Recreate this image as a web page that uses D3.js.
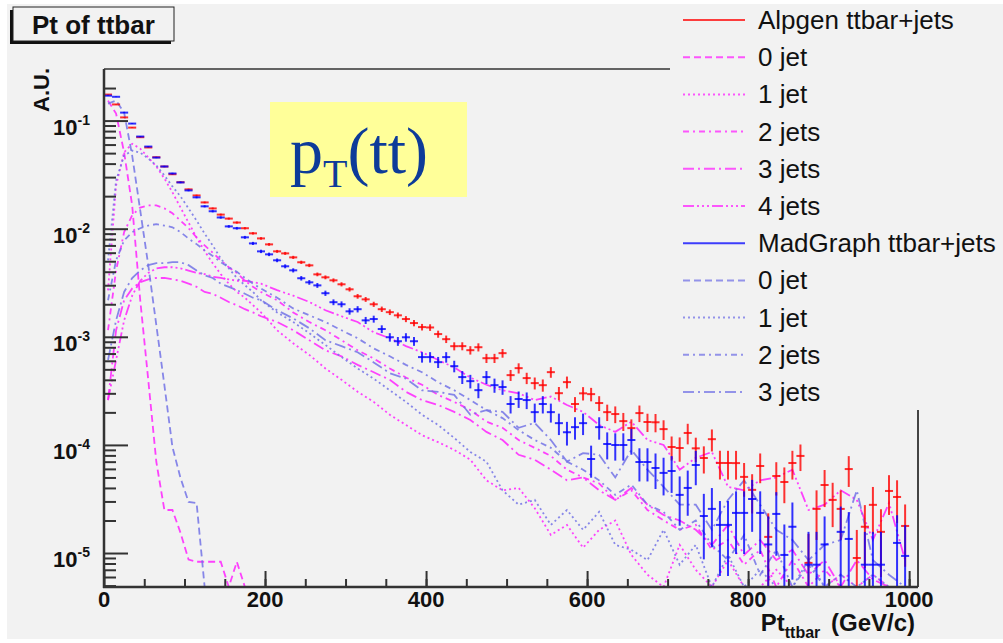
<!DOCTYPE html>
<html lang="en">
<head>
<meta charset="UTF-8" />
<title>Pt of ttbar</title>
<script src="https://d3js.org/d3.v7.min.js"></script>
<style>
  body { margin: 0; background: #fff; }
  svg { display: block; font-family: "Liberation Sans", Arial, sans-serif; }
  .tick-label { font-weight: bold; font-size: 22px; fill: #111; }
  .legend text { font-size: 26px; fill: #111; }
</style>
</head>
<body>
<svg width="1003" height="643"></svg>
<script>
// --- data (A.U.) ---
// 10 GeV bins, 0..1000 GeV
const binCenters = d3.range(5, 1000, 10);

const alpgenTotal = [
  0.174, 0.141, 0.107, 0.0861, 0.0702, 0.0564, 0.0458, 0.0376, 0.0319, 0.0269,
  0.0231, 0.0203, 0.0175, 0.0154, 0.0135, 0.0124, 0.0114, 0.0101, 0.00906, 0.00813,
  0.00716, 0.00617, 0.00591, 0.00543, 0.00489, 0.00458, 0.00378, 0.00355, 0.00333, 0.00306,
  0.00275, 0.00237, 0.00222, 0.00200, 0.00180, 0.00169, 0.00158, 0.00146, 0.00134, 0.00123,
  0.00122, 0.00106, 0.000951, 0.000819, 0.00082, 0.000752, 0.000801, 0.000634, 0.000634, 0.000706,
  0.000442, 0.000513, 0.000415, 0.000373, 0.000357, 0.000471, 0.000301, 0.000381, 0.000239, 0.000300,
  0.000295, 0.000244, 0.000201, 0.000193, 0.000166, 0.000143, 0.000197, 0.000163, 0.000162, 0.000140,
  9.57e-5, 9.36e-5, 1.29e-4, 9.3e-5, 7.57e-5, 1.13e-4, 6.81e-5, 6.8e-5, 6.79e-5, 5.06e-5,
  3.84e-5, 6.38e-5, 1.41e-5, 5.16e-5, 4.54e-5, 6.8e-5, 7.91e-5, 8.1e-6, 2.56e-5, 4.26e-5,
  3.10e-5, 2.56e-5, 5.98e-5, 9.0e-6, 1.75e-5, 2.79e-5, 1.57e-5, 3.75e-5, 3.30e-5, 1.78e-5
];

const madgraphTotal = [
  0.170, 0.166, 0.1185, 0.0938, 0.0712, 0.0575, 0.0455, 0.0376, 0.0324, 0.0268,
  0.0226, 0.0195, 0.0161, 0.0145, 0.0127, 0.0105, 0.0101, 0.00832, 0.00731, 0.00617,
  0.00579, 0.00510, 0.00449, 0.00412, 0.00348, 0.00319, 0.00299, 0.00253, 0.00209, 0.00200,
  0.00172, 0.00180, 0.00142, 0.00146, 0.00118, 0.000991, 0.000910, 0.00099, 0.00091, 0.000649,
  0.000649, 0.000583, 0.000649, 0.000535, 0.000424, 0.000389, 0.000321, 0.000424, 0.000357, 0.000343,
  0.000239, 0.000266, 0.000260, 0.000201, 0.000239, 0.000201, 0.000159, 0.000131, 0.000146, 0.000159,
  7.41e-5, 0.000146, 0.000102, 9.98e-5, 9.98e-5, 0.000111, 6.95e-5, 6.95e-5, 6.12e-5, 5.51e-5,
  5.74e-5, 3.45e-5, 4.0e-5, 6.52e-5, 2.20e-5, 2.56e-5, 1.82e-5, 1.82e-5, 2.35e-5, 2.35e-5,
  3.16e-5, 2.35e-5, 1.2e-5, 2.3e-5, 9.6e-6, 1.75e-5, 0, 7.8e-6, 7.8e-6, 1.2e-5,
  0, 1.57e-5, 1.35e-5, 0, 7.8e-6, 7.8e-6, 7.8e-6, 0, 1.24e-5, 9.4e-6
];

// weight of one event in each sample (sets the error bars)
const alpgenWeight = 6e-6;
const madgraphWeight = 8e-6;

// jet-multiplicity components, sampled at these pT points
const compPt = d3.range(5, 200, 10).concat(d3.range(215, 1000, 20));

const alpgen0 = [
  0.153, 0.116, 0.0507, 0.0164, 0.00218, 0.000397, 6.95e-5, 2.5e-5, 2.5e-5, 1.54e-5,
  8.7e-6, 8.3e-6, 8.3e-6, 8.3e-6, 8.3e-6, 0, 8.3e-6, 0, 0, 0,
  0, 0, 0, 0, 0, 0, 0, 0, 0, 0,
  0, 0, 0, 0, 0, 0, 0, 0, 0, 0,
  0, 0, 0, 0, 0, 0, 0, 0, 0, 0,
  0, 0, 0, 0, 0, 0, 0, 0, 0, 0
];
const alpgen1 = [
  0.00269, 0.0251, 0.051, 0.061, 0.055, 0.0455, 0.0376, 0.0291, 0.0217, 0.0157,
  0.0114, 0.0083, 0.0062, 0.0048, 0.0038, 0.0031, 0.0026, 0.0023, 0.00196, 0.00168,
  0.00115, 0.00087, 0.00068, 0.00051, 0.00040, 0.00031, 0.00025, 0.00019, 0.000153, 0.000123,
  0.000106, 9.0e-5, 7.3e-5, 4.7e-5, 3.8e-5, 4.0e-5, 2.6e-5, 1.47e-5, 1.82e-5, 1.12e-5,
  1.64e-5, 2.0e-5, 9.6e-6, 6.3e-6, 0, 1.19e-5, 7.0e-6, 0, 8.6e-6, 0,
  0, 7.0e-6, 0, 0, 0, 6.3e-6, 0, 0, 0, 0
];
const alpgen2 = [
  0.00115, 0.0041, 0.0093, 0.0133, 0.0157, 0.0164, 0.0164, 0.0154, 0.0139, 0.0119,
  0.0101, 0.0083, 0.0070, 0.0060, 0.0051, 0.0044, 0.0039, 0.0033, 0.0029, 0.0026,
  0.00218, 0.00168, 0.00137, 0.00115, 0.00093, 0.00075, 0.00063, 0.00051, 0.00042, 0.00036,
  0.00029, 0.00025, 0.00021, 0.000164, 0.000144, 0.000111, 9.4e-5, 7.9e-5, 5.9e-5, 5.0e-5,
  4.4e-5, 3.1e-5, 3.8e-5, 2.5e-5, 2.0e-5, 1.64e-5, 1.82e-5, 1.07e-5, 1.32e-5, 7.8e-6,
  1.07e-5, 0, 8.6e-6, 0, 7.0e-6, 0, 0, 6.3e-6, 0, 0
];
const alpgen3 = [
  0.00026, 0.00115, 0.00218, 0.0028, 0.0032, 0.0034, 0.0035, 0.0035, 0.0034, 0.0033,
  0.0031, 0.0029, 0.0026, 0.0025, 0.0023, 0.0021, 0.00196, 0.0018, 0.00168, 0.00155,
  0.00137, 0.00115, 0.00093, 0.00075, 0.00066, 0.00055, 0.00047, 0.00040, 0.00031, 0.00026,
  0.000234, 0.000202, 0.00017, 0.000132, 0.000111, 8.1e-5, 7.3e-5, 5.9e-5, 4.7e-5, 5.0e-5,
  3.8e-5, 3.1e-5, 4.0e-5, 2.8e-5, 2.25e-5, 2.0e-5, 1.64e-5, 1.19e-5, 1.82e-5, 9.6e-6,
  1.32e-5, 8.6e-6, 1.07e-5, 6.3e-6, 8.6e-6, 0, 8.6e-6, 5.7e-6, 0, 0
];
const alpgen4 = [
  0.00026, 0.00061, 0.00142, 0.0024, 0.0033, 0.0039, 0.0043, 0.0044, 0.0044, 0.0043,
  0.0041, 0.0039, 0.0038, 0.0036, 0.0035, 0.0034, 0.0033, 0.0033, 0.0032, 0.0031,
  0.0027, 0.0024, 0.0021, 0.00176, 0.00155, 0.00137, 0.00110, 0.00097, 0.00082, 0.00072,
  0.00061, 0.00052, 0.00042, 0.00036, 0.00032, 0.00030, 0.00026, 0.00028, 0.000234, 0.000202,
  0.000153, 0.000132, 0.000164, 0.000111, 0.0001, 5.9e-5, 7.6e-5, 8.6e-5, 4.1e-5, 3.8e-5,
  4.7e-5, 5.0e-5, 5.9e-5, 2.5e-5, 2.8e-5, 3.8e-5, 3.1e-5, 1.32e-5, 2.9e-5, 8.6e-6
];

const madgraph0 = [
  0.1436, 0.153, 0.1185, 0.0475, 0.01476, 0.00458, 0.00128, 0.000357, 9.57e-5, 4.95e-5,
  2.97e-5, 2.9e-5, 0, 0, 0, 0, 0, 0, 0, 0,
  0, 0, 0, 0, 0, 0, 0, 0, 0, 0,
  0, 0, 0, 0, 0, 0, 0, 0, 0, 0,
  0, 0, 0, 0, 0, 0, 0, 0, 0, 0,
  0, 0, 0, 0, 0, 0, 0, 0, 0, 0
];
const madgraph1 = [
  0.0051, 0.0279, 0.0475, 0.0528, 0.0505, 0.0446, 0.0384, 0.0311, 0.0246, 0.0199,
  0.0154, 0.0119, 0.0090, 0.0070, 0.0053, 0.0043, 0.0035, 0.0030, 0.0026, 0.00218,
  0.00168, 0.00137, 0.00108, 0.00084, 0.00065, 0.00051, 0.00041, 0.00032, 0.00025, 0.00019,
  0.000153, 0.000116, 8.6e-5, 7.0e-5, 3.8e-5, 2.8e-5, 3.1e-5, 1.82e-5, 2.5e-5, 1.64e-5,
  2.4e-5, 1.19e-5, 1.07e-5, 8.6e-6, 1.64e-5, 7.8e-6, 1.19e-5, 0, 9.6e-6, 0,
  7.0e-6, 0, 0, 8.6e-6, 0, 0, 0, 6.3e-6, 0, 0
];
const madgraph2 = [
  0.00218, 0.0051, 0.0078, 0.0093, 0.0101, 0.0107, 0.0110, 0.0107, 0.0103, 0.0093,
  0.0081, 0.0072, 0.0063, 0.0056, 0.0049, 0.0044, 0.0040, 0.0035, 0.0031, 0.0028,
  0.0023, 0.00183, 0.00158, 0.00137, 0.00115, 0.00097, 0.00078, 0.00066, 0.00055, 0.00047,
  0.00038, 0.00032, 0.00026, 0.00021, 0.000177, 0.000137, 0.000111, 9.4e-5, 7.0e-5, 5.9e-5,
  4.7e-5, 3.45e-5, 4.3e-5, 2.8e-5, 2.4e-5, 1.64e-5, 2.0e-5, 1.19e-5, 8.6e-6, 1.47e-5,
  6.3e-6, 1.07e-5, 0, 7.8e-6, 0, 6.3e-6, 0, 0, 0, 0
];
const madgraph3 = [
  0.00061, 0.00142, 0.0026, 0.0035, 0.0041, 0.0046, 0.0048, 0.0048, 0.0049, 0.0049,
  0.0046, 0.0041, 0.0037, 0.0035, 0.0031, 0.0029, 0.0027, 0.0025, 0.0023, 0.00218,
  0.00176, 0.00148, 0.00120, 0.00093, 0.00082, 0.00072, 0.00058, 0.00046, 0.00041, 0.00032,
  0.00031, 0.00029, 0.00019, 0.00021, 0.000202, 0.000144, 0.00016, 0.000111, 7.0e-5, 8.4e-5,
  8.1e-5, 5.0e-5, 9.0e-5, 5.9e-5, 4.1e-5, 2.8e-5, 2.8e-5, 1.64e-5, 3.1e-5, 4.7e-5,
  2.8e-5, 1.64e-5, 1.32e-5, 8.6e-6, 1.19e-5, 1.32e-5, 3.8e-5, 8.6e-6, 6.3e-6, 0
];

const xTicks = [0, 200, 400, 600, 800, 1000];
const yExponents = [-1, -2, -3, -4, -5];

// --- layout ---
const width = 1003;
const height = 643;
const frame = { left: 104, right: 918, top: 69, bottom: 587 };

const magenta = "#ff22ff";
const lilac = "#7373e6";

const components = [
  { values: alpgen0, color: magenta, dash: "7 4" },
  { values: alpgen1, color: magenta, dash: "2 3" },
  { values: alpgen2, color: magenta, dash: "6 4 2 4" },
  { values: alpgen3, color: magenta, dash: "11 4 2 4" },
  { values: alpgen4, color: magenta, dash: "11 3 2 3 2 3 2 3" },
  { values: madgraph0, color: lilac, dash: "7 4" },
  { values: madgraph1, color: lilac, dash: "2 3" },
  { values: madgraph2, color: lilac, dash: "6 4 2 4" },
  { values: madgraph3, color: lilac, dash: "11 4 2 4" }
];

const svg = d3.select("svg")
  .attr("width", width)
  .attr("height", height);

svg.append("rect").attr("x", 7).attr("y", 4)
  .attr("width", width - 7).attr("height", height - 8)
  .attr("fill", "#f2f2f2");

const x = d3.scaleLinear().domain([0, 1011]).range([frame.left, frame.right]);
const y = d3.scaleLog().domain([4.85e-6, 0.30]).range([frame.bottom, frame.top]);
const yMin = y.domain()[0];
const yPos = v => v > yMin ? y(v) : frame.bottom;

svg.append("clipPath").attr("id", "frame-clip")
  .append("rect")
  .attr("x", frame.left).attr("y", frame.top)
  .attr("width", frame.right - frame.left)
  .attr("height", frame.bottom - frame.top);

const plot = svg.append("g").attr("clip-path", "url(#frame-clip)");

// component curves
const line = d3.line()
  .x((d, i) => x(compPt[i]))
  .y(d => yPos(d));

plot.selectAll("path.comp")
  .data(components)
  .enter()
  .append("path")
  .attr("class", "comp")
  .attr("d", d => line(d.values))
  .attr("fill", "none")
  .attr("stroke", d => d.color)
  .attr("stroke-width", 1.8)
  .attr("stroke-dasharray", d => d.dash)
  .attr("stroke-opacity", 0.85);

// totals with error bars
function drawTotal(values, weight, color) {
  const g = plot.append("g")
    .attr("stroke", color)
    .attr("stroke-width", 2)
    .attr("stroke-opacity", 0.8);
  const pts = values.map((v, i) => ({ c: binCenters[i], v: v }))
    .filter(d => d.v > 0);
  pts.forEach(d => {
    const err = Math.sqrt(d.v * weight);
    g.append("line")
      .attr("x1", x(d.c)).attr("x2", x(d.c))
      .attr("y1", yPos(d.v + err)).attr("y2", yPos(d.v - err));
    g.append("line")
      .attr("x1", x(d.c - 5)).attr("x2", x(d.c + 5))
      .attr("y1", y(d.v)).attr("y2", y(d.v));
  });
}
drawTotal(alpgenTotal, alpgenWeight, "#ff0000");
drawTotal(madgraphTotal, madgraphWeight, "#0000ff");

// frame
svg.append("line").attr("x1", frame.left).attr("x2", frame.right)
  .attr("y1", frame.top).attr("y2", frame.top)
  .attr("stroke", "#333").attr("stroke-width", 1.5);
svg.append("line").attr("x1", frame.right).attr("x2", frame.right)
  .attr("y1", frame.top).attr("y2", frame.bottom)
  .attr("stroke", "#444").attr("stroke-width", 2);

// y axis, ticks pointing into the frame
const yMinor = [];
for (let e = -6; e <= -1; e++) {
  for (let k = 2; k <= 9; k++) {
    const v = k * Math.pow(10, e);
    if (v >= yMin && v <= 0.30) yMinor.push(v);
  }
}
const yMajor = yExponents.map(e => Math.pow(10, e));

svg.append("g")
  .attr("transform", `translate(${frame.left},0)`)
  .call(d3.axisRight(y).tickValues(yMinor).tickSize(12).tickFormat(""))
  .call(g => g.select(".domain").remove());
svg.append("g")
  .attr("transform", `translate(${frame.left},0)`)
  .call(d3.axisRight(y).tickValues(yMajor).tickSize(24).tickFormat(""))
  .call(g => g.select(".domain").remove());

// x axis, ticks pointing up
svg.append("g")
  .attr("transform", `translate(0,${frame.bottom})`)
  .call(d3.axisTop(x).tickValues(d3.range(50, 1001, 50)).tickSize(8).tickFormat(""))
  .call(g => g.select(".domain").remove());
svg.append("g")
  .attr("transform", `translate(0,${frame.bottom})`)
  .call(d3.axisTop(x).tickValues(xTicks).tickSize(16).tickFormat(""))
  .call(g => g.select(".domain").remove());

svg.selectAll(".tick line").attr("stroke", "#333").attr("stroke-width", 2);

svg.append("line").attr("x1", frame.left).attr("x2", frame.left)
  .attr("y1", frame.top).attr("y2", frame.bottom + 1)
  .attr("stroke", "#333").attr("stroke-width", 2.5);
svg.append("line").attr("x1", frame.left - 1).attr("x2", frame.right)
  .attr("y1", frame.bottom).attr("y2", frame.bottom)
  .attr("stroke", "#333").attr("stroke-width", 2.5);

// tick labels
const yl = svg.selectAll("text.ylab")
  .data(yExponents)
  .enter()
  .append("text")
  .attr("class", "tick-label ylab")
  .attr("text-anchor", "end")
  .attr("x", 90)
  .attr("y", e => y(Math.pow(10, e)) + 14);
yl.append("tspan").text("10");
yl.append("tspan").attr("dy", -10).attr("font-size", 14).text(e => String(e));

svg.selectAll("text.xlab")
  .data(xTicks)
  .enter()
  .append("text")
  .attr("class", "tick-label xlab")
  .attr("text-anchor", "middle")
  .attr("x", d => x(d))
  .attr("y", 607)
  .text(d => d);

// axis titles
svg.append("text")
  .attr("transform", "translate(49,68) rotate(-90)")
  .attr("text-anchor", "end")
  .attr("font-weight", "bold")
  .attr("font-size", 22)
  .attr("fill", "#111")
  .text("A.U.");

const xt = svg.append("text")
  .attr("x", 915).attr("y", 631)
  .attr("text-anchor", "end")
  .attr("font-weight", "bold")
  .attr("font-size", 24)
  .attr("fill", "#111");
xt.append("tspan").text("Pt");
xt.append("tspan").attr("dy", 7).attr("font-size", 16).text("ttbar");
xt.append("tspan").attr("dy", -7).attr("dx", 4).text(" (GeV/c)");

// title box with shadow
svg.append("rect").attr("x", 10).attr("y", 10).attr("width", 161).attr("height", 34).attr("fill", "#111");
svg.append("rect").attr("x", 13).attr("y", 7).attr("width", 161).attr("height", 34)
  .attr("fill", "#f2f2f2").attr("stroke", "#222").attr("stroke-width", 1);
svg.append("text").attr("x", 32).attr("y", 34)
  .attr("font-weight", "bold").attr("font-size", 26).attr("fill", "#111")
  .text("Pt of ttbar");

// pT(tt) label
svg.append("rect").attr("x", 270).attr("y", 102).attr("width", 197).attr("height", 95)
  .attr("fill", "#ffff99");
const pt = svg.append("text").attr("x", 290).attr("y", 173)
  .attr("font-family", "'Liberation Serif', 'DejaVu Serif', serif")
  .attr("font-size", 66).attr("fill", "#0d3b99");
pt.append("tspan").text("p");
pt.append("tspan").attr("dy", 14).attr("font-size", 40).text("T");
pt.append("tspan").attr("dy", -14).text("(tt)");

// legend
const legendItems = [
  { label: "Alpgen ttbar+jets", color: "#ff0000", dash: null },
  { label: "0 jet", color: magenta, dash: "7 4" },
  { label: "1 jet", color: magenta, dash: "2 3" },
  { label: "2 jets", color: magenta, dash: "6 4 2 4" },
  { label: "3 jets", color: magenta, dash: "11 4 2 4" },
  { label: "4 jets", color: magenta, dash: "11 3 2 3 2 3 2 3" },
  { label: "MadGraph ttbar+jets", color: "#0000ff", dash: null },
  { label: "0 jet", color: lilac, dash: "7 4" },
  { label: "1 jet", color: lilac, dash: "2 3" },
  { label: "2 jets", color: lilac, dash: "6 4 2 4" },
  { label: "3 jets", color: lilac, dash: "11 4 2 4" }
];

const legend = svg.append("g").attr("class", "legend");
legend.append("rect").attr("x", 670).attr("y", 4).attr("width", 333).attr("height", 406)
  .attr("fill", "#f2f2f2");
const rows = legend.selectAll("g.row")
  .data(legendItems)
  .enter()
  .append("g")
  .attr("class", "row")
  .attr("transform", (d, i) => `translate(0,${20 + i * 37.2})`);
rows.append("line")
  .attr("x1", 683).attr("x2", 745)
  .attr("stroke", d => d.color)
  .attr("stroke-width", 2)
  .attr("stroke-opacity", 0.75)
  .attr("stroke-dasharray", d => d.dash);
rows.append("text")
  .attr("x", 758).attr("y", 9)
  .text(d => d.label);
</script>
</body>
</html>
